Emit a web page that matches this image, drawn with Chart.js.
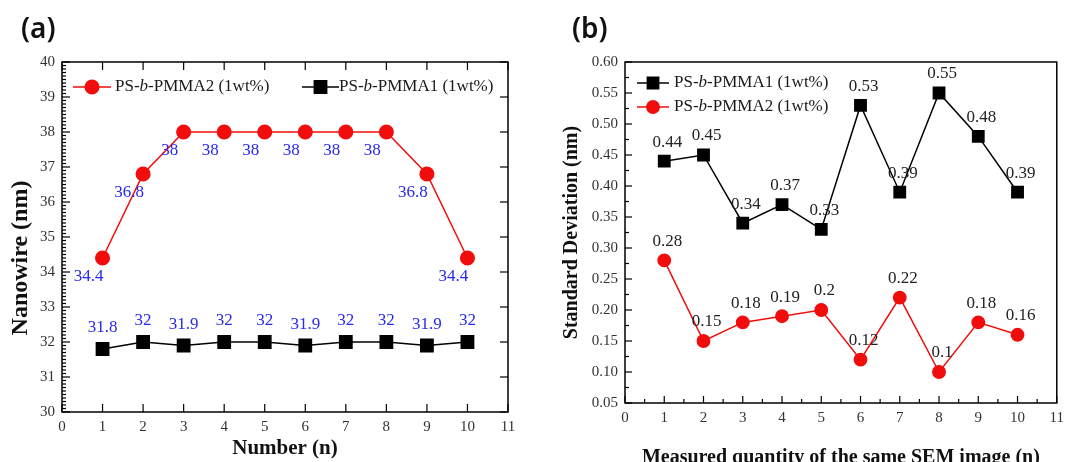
<!DOCTYPE html>
<html>
<head>
<meta charset="utf-8">
<script src="https://cdn.jsdelivr.net/npm/chart.js@4.4.0/dist/chart.umd.min.js"></script>
<style>
  html, body { margin: 0; padding: 0; background: #fff; overflow: hidden; }
  #page { position: relative; width: 1070px; height: 462px; overflow: hidden; }
  .panel { position: absolute; top: 0; width: 535px; }
  #panel-a { left: 0; height: 462px; }
  #panel-b { left: 535px; height: 475px; }
  .tag { position: absolute; top: 8px; font-family: "Noto Sans", sans-serif; font-size: 28px; font-weight: 600; color: #111; line-height: 38px; }
</style>
</head>
<body>
<div id="page">
  <div class="panel" id="panel-a"><canvas id="chartA" width="535" height="462"></canvas></div>
  <div class="panel" id="panel-b"><canvas id="chartB" width="535" height="475"></canvas></div>
  <div class="tag" style="left:21px">(a)</div>
  <div class="tag" style="left:572px">(b)</div>
</div>
<script>
// Panel (a) - nanowire width
const numberA = [1, 2, 3, 4, 5, 6, 7, 8, 9, 10];
const pmma2Width = [34.4, 36.8, 38, 38, 38, 38, 38, 38, 36.8, 34.4];
const pmma1Width = [31.8, 32, 31.9, 32, 32, 31.9, 32, 32, 31.9, 32];

// Panel (b) - standard deviation
const numberB = [1, 2, 3, 4, 5, 6, 7, 8, 9, 10];
const pmma1Std = [0.44, 0.45, 0.34, 0.37, 0.33, 0.53, 0.39, 0.55, 0.48, 0.39];
const pmma2Std = [0.28, 0.15, 0.18, 0.19, 0.2, 0.12, 0.22, 0.1, 0.18, 0.16];

const SERIF = "'Liberation Serif', 'Times New Roman', serif";
const RED = "#f20d0d";
const NBSP = "\u00a0";

const toPoints = (xs, ys) => xs.map((x, i) => ({ x: x, y: ys[i] }));

// frame + inward tick marks (major / minor)
const frameTicks = {
  id: "frameTicks",
  afterDatasetsDraw(chart, args, opts) {
    const { ctx, chartArea } = chart;
    const { left, right, top, bottom } = chartArea;
    const xs = chart.scales.x;
    const ys = chart.scales.y;
    ctx.save();
    ctx.strokeStyle = "#000";
    ctx.lineWidth = 1.5;
    ctx.strokeRect(left, top, right - left, bottom - top);
    ctx.lineWidth = 1.2;
    const mark = (x1, y1, x2, y2) => {
      ctx.beginPath();
      ctx.moveTo(x1, y1);
      ctx.lineTo(x2, y2);
      ctx.stroke();
    };
    const walk = (scale, major, minor, fn) => {
      const n = Math.round((scale.max - scale.min) / minor);
      for (let i = 0; i <= n; i++) {
        const v = scale.min + i * minor;
        const isMajor = Math.abs(v / major - Math.round(v / major)) < 1e-6;
        fn(scale.getPixelForValue(v), isMajor);
      }
    };
    walk(xs, opts.xMajor, opts.xMinor, (px, isMajor) => {
      const len = isMajor ? opts.majorLen : opts.minorLen;
      mark(px, bottom, px, bottom - len);
      if (opts.mirror && isMajor) mark(px, top, px, top + len);
    });
    walk(ys, opts.yMajor, opts.yMinor, (py, isMajor) => {
      const len = isMajor ? opts.majorLen : opts.minorLen;
      mark(left, py, left + len, py);
      if (opts.mirror && isMajor) mark(right, py, right - len, py);
    });
    ctx.restore();
  }
};

// value labels next to every point
const valueLabels = {
  id: "valueLabels",
  afterDatasetsDraw(chart) {
    const ctx = chart.ctx;
    chart.data.datasets.forEach((ds, i) => {
      const lab = ds.valueLabel;
      if (!lab) return;
      const meta = chart.getDatasetMeta(i);
      ctx.save();
      ctx.font = lab.font;
      ctx.fillStyle = lab.color;
      ctx.textAlign = "center";
      ctx.textBaseline = "middle";
      meta.data.forEach((pt, j) => {
        ctx.fillText(String(ds.data[j].y), pt.x + lab.dx, pt.y + lab.dy);
      });
      ctx.restore();
    });
  }
};

// legend drawn inside the plot, with italic "b"
const inlineLegend = {
  id: "inlineLegend",
  afterDraw(chart, args, opts) {
    const ctx = chart.ctx;
    opts.items.forEach((item) => {
      const ds = chart.data.datasets[item.dataset];
      ctx.save();
      ctx.strokeStyle = ds.borderColor;
      ctx.lineWidth = ds.borderWidth;
      ctx.beginPath();
      ctx.moveTo(item.x1, item.y);
      ctx.lineTo(item.x2, item.y);
      ctx.stroke();
      ctx.fillStyle = ds.pointBackgroundColor;
      ctx.strokeStyle = ds.pointBorderColor;
      Chart.helpers.drawPoint(ctx, {
        pointStyle: ds.pointStyle,
        radius: ds.pointRadius,
        rotation: 0,
        borderWidth: 1
      }, (item.x1 + item.x2) / 2, item.y);
      const [head, tail] = ds.label.split("-b-");
      const parts = [[head + "-", ""], ["b", "italic "], ["-" + tail, ""]];
      let x = item.tx;
      ctx.fillStyle = "#1a1a1a";
      ctx.textBaseline = "middle";
      parts.forEach(([txt, style]) => {
        ctx.font = style + opts.size + "px " + SERIF;
        ctx.fillText(txt, x, item.y);
        x += ctx.measureText(txt).width;
      });
      ctx.restore();
    });
  }
};

const tickFont = { family: SERIF, size: 15 };

// ---------- Chart (a) ----------
new Chart(document.getElementById("chartA"), {
  type: "line",
  data: {
    datasets: [
      {
        label: "PS-b-PMMA2 (1wt%)",
        data: toPoints(numberA, pmma2Width),
        borderColor: RED,
        borderWidth: 1.5,
        pointStyle: "circle",
        pointRadius: 6.8,
        pointBackgroundColor: RED,
        pointBorderColor: RED,
        valueLabel: { font: "17px " + SERIF, color: "#2828f0", dx: -14, dy: 19 }
      },
      {
        label: "PS-b-PMMA1 (1wt%)",
        data: toPoints(numberA, pmma1Width),
        borderColor: "#000",
        borderWidth: 1.5,
        pointStyle: "rect",
        pointRadius: 8.7,
        pointBackgroundColor: "#000",
        pointBorderColor: "#000",
        valueLabel: { font: "17px " + SERIF, color: "#2828f0", dx: 0, dy: -21 }
      }
    ]
  },
  options: {
    responsive: false,
    animation: false,
    layout: { padding: { left: 0, right: 27, top: 62, bottom: 0 } },
    plugins: {
      legend: { display: false },
      tooltip: { enabled: false },
      frameTicks: { xMajor: 1, xMinor: 1, yMajor: 1, yMinor: 0.1, majorLen: 8, minorLen: 4, mirror: true },
      inlineLegend: {
        size: 17,
        items: [
          { dataset: 0, x1: 73, x2: 111, y: 87, tx: 115 },
          { dataset: 1, x1: 302, x2: 339, y: 87, tx: 339 }
        ]
      }
    },
    scales: {
      x: {
        type: "linear",
        min: 0,
        max: 11,
        ticks: { stepSize: 1, padding: 6, color: "#333", font: tickFont },
        grid: { display: false, drawTicks: false },
        border: { display: false },
        title: {
          display: true,
          text: "Number (n)",
          color: "#111",
          font: { family: SERIF, size: 21, weight: "bold" },
          padding: { top: 0, bottom: 1 }
        },
        afterFit(scale) { scale.height = 50; }
      },
      y: {
        min: 30,
        max: 40,
        ticks: { stepSize: 1, padding: 7, color: "#333", font: tickFont },
        grid: { display: false, drawTicks: false },
        border: { display: false },
        title: {
          display: true,
          text: "Nanowire (nm)" + NBSP.repeat(7),
          color: "#111",
          font: { family: SERIF, size: 24, weight: "bold" },
          padding: { top: 6, bottom: 0 }
        },
        afterFit(scale) { scale.width = 62; }
      }
    }
  },
  plugins: [frameTicks, valueLabels, inlineLegend]
});

// ---------- Chart (b) ----------
new Chart(document.getElementById("chartB"), {
  type: "line",
  data: {
    datasets: [
      {
        label: "PS-b-PMMA1 (1wt%)",
        data: toPoints(numberB, pmma1Std),
        borderColor: "#000",
        borderWidth: 1.5,
        pointStyle: "rect",
        pointRadius: 8,
        pointBackgroundColor: "#000",
        pointBorderColor: "#000",
        valueLabel: { font: "17px " + SERIF, color: "#222", dx: 3, dy: -19 }
      },
      {
        label: "PS-b-PMMA2 (1wt%)",
        data: toPoints(numberB, pmma2Std),
        borderColor: RED,
        borderWidth: 1.5,
        pointStyle: "circle",
        pointRadius: 6.2,
        pointBackgroundColor: RED,
        pointBorderColor: RED,
        valueLabel: { font: "17px " + SERIF, color: "#222", dx: 3, dy: -19 }
      }
    ]
  },
  options: {
    responsive: false,
    animation: false,
    layout: { padding: { left: 0, right: 13, top: 62, bottom: 0 } },
    plugins: {
      legend: { display: false },
      tooltip: { enabled: false },
      frameTicks: { xMajor: 1, xMinor: 0.5, yMajor: 0.05, yMinor: 0.025, majorLen: 7, minorLen: 4, mirror: false },
      inlineLegend: {
        size: 17,
        items: [
          { dataset: 0, x1: 102, x2: 134, y: 83, tx: 139 },
          { dataset: 1, x1: 102, x2: 134, y: 107, tx: 139 }
        ]
      }
    },
    scales: {
      x: {
        type: "linear",
        min: 0,
        max: 11,
        ticks: { stepSize: 1, padding: 6, color: "#333", font: tickFont },
        grid: { display: false, drawTicks: false },
        border: { display: false },
        title: {
          display: true,
          text: "Measured quantity of the same SEM image (n)",
          color: "#111",
          font: { family: SERIF, size: 20, weight: "bold" },
          padding: { top: 0, bottom: 5 }
        },
        afterFit(scale) { scale.height = 72; }
      },
      y: {
        min: 0.05,
        max: 0.6,
        ticks: {
          stepSize: 0.05,
          padding: 7,
          color: "#333",
          font: tickFont,
          callback: (v) => v.toFixed(2)
        },
        grid: { display: false, drawTicks: false },
        border: { display: false },
        title: {
          display: true,
          text: "Standard Deviation (nm)",
          color: "#111",
          font: { family: SERIF, size: 20, weight: "bold" },
          padding: { top: 25, bottom: 0 }
        },
        afterFit(scale) { scale.width = 90; }
      }
    }
  },
  plugins: [frameTicks, valueLabels, inlineLegend]
});
</script>
</body>
</html>
